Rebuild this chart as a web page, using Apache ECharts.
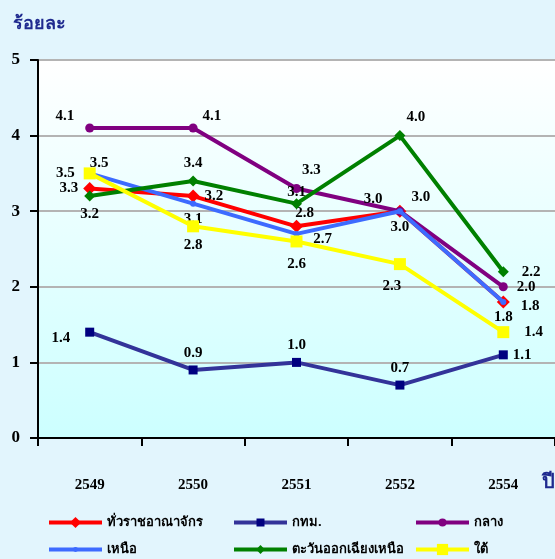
<!DOCTYPE html>
<html>
<head>
<meta charset="utf-8">
<script src="https://cdn.jsdelivr.net/npm/echarts@6/dist/echarts.min.js"></script>
<style>
  html, body { margin: 0; padding: 0; background: #e2f5fd; }
  #main { width: 555px; height: 559px; }
</style>
</head>
<body>
<div id="main"></div>
<script>
// ข้อมูล
var years = ["2549", "2550", "2551", "2552", "2554"];
var seriesNames = ["ทั่วราชอาณาจักร", "กทม.", "กลาง", "เหนือ", "ตะวันออกเฉียงเหนือ", "ใต้"];
var wholeKingdom = [3.3, 3.2, 2.8, 3.0, 1.8];
var bangkok = [1.4, 0.9, 1.0, 0.7, 1.1];
var central = [4.1, 4.1, 3.3, 3.0, 2.0];
var north = [3.5, 3.1, 2.7, 3.0, 1.8];
var northeast = [3.2, 3.4, 3.1, 4.0, 2.2];
var south = [3.5, 2.8, 2.6, 2.3, 1.4];
var yTicks = [0, 1, 2, 3, 4, 5];

// ตำแหน่งป้ายตัวเลข
var labelPos = [
  ["left", "right", "top", "right", "right"],
  ["left", "top", "top", "top", "right"],
  ["left", "right", "right", "left", "right"],
  ["right", "bottom", "bottom", "bottom", "bottom"],
  ["bottom", "top", "top", "right", "right"],
  ["left", "bottom", "bottom", "bottom", "right"]
];
var labelOffset = [
  [[0, 0], [0, 0], [8, 6], [0, -14], [6, 4]],
  [[-10, 6], [0, 0], [0, 0], [0, 0], [0, 0]],
  [[-6, -12], [0, -12], [-4, -18], [-8, -12], [4, 0]],
  [[-8, -10], [0, 0], [26, -10], [0, 0], [0, 0]],
  [[0, 0], [0, 0], [0, 6], [-4, -18], [8, 0]],
  [[-4, 0], [0, 0], [0, 4], [-8, 4], [10, 0]]
];

var colors = ["#ff0000", "#333399", "#800080", "#3d6bff", "#008000", "#ffff00"];
var symbols = ["diamond", "rect", "circle", "circle", "diamond", "rect"];
var symbolSizes = [13, 9, 9, 6, 11, 12];
var symbolColors = ["#ff0000", "#000080", "#800080", "#3d6bff", "#008000", "#ffff00"];
var allData = [wholeKingdom, bangkok, central, north, northeast, south];

var labelFont = {
  fontFamily: "Liberation Serif",
  fontWeight: "bold",
  fontSize: 15,
  color: "#000"
};

function buildSeries() {
  return allData.map(function (arr, s) {
    return {
      name: seriesNames[s],
      type: "line",
      symbol: symbols[s],
      symbolSize: symbolSizes[s],
      showAllSymbol: true,
      lineStyle: { color: colors[s], width: 4 },
      itemStyle: { color: symbolColors[s] },
      emphasis: { disabled: true },
      z: 2 + s,
      data: arr.map(function (v, i) {
        return {
          value: v,
          label: {
            show: true,
            position: labelPos[s][i],
            offset: labelOffset[s][i],
            formatter: v.toFixed(1),
            fontFamily: labelFont.fontFamily,
            fontWeight: labelFont.fontWeight,
            fontSize: labelFont.fontSize,
            color: labelFont.color
          }
        };
      })
    };
  });
}

var legendText = {
  fontFamily: "Noto Sans, DejaVu Sans, sans-serif",
  fontSize: 13,
  fontWeight: "bold",
  color: "#000",
  padding: [8, 0, 0, 0]
};

// หนึ่งรายการต่อหนึ่ง legend เพื่อจัดคอลัมน์ให้ตรงกัน
var legendLeft = [47, 232, 414, 47, 232, 414];
var legendRowY = [522, 522, 522, 549, 549, 549];
var legendIconH = [14, 10, 10, 6, 11, 14];

function buildLegends() {
  return seriesNames.map(function (name, i) {
    return {
      left: legendLeft[i],
      top: legendRowY[i] - 6,
      padding: 0,
      itemWidth: 53,
      itemHeight: legendIconH[i],
      itemGap: 4,
      lineStyle: { width: 4 },
      textStyle: legendText,
      data: [name]
    };
  });
}

var myChart = echarts.init(document.getElementById("main"));
myChart.setOption({
  backgroundColor: "#e2f5fd",
  animation: false,
  title: [
    {
      text: "ร้อยละ",
      left: 8,
      top: 10,
      textStyle: {
        color: "#1f2a8f",
        fontSize: 18,
        fontWeight: "bold",
        fontFamily: "Noto Sans, DejaVu Sans, sans-serif"
      }
    },
    {
      text: "ปี",
      left: 537,
      top: 467,
      textStyle: {
        color: "#1f2a8f",
        fontSize: 20,
        fontWeight: "bold",
        fontFamily: "Noto Sans, DejaVu Sans, sans-serif"
      }
    }
  ],
  grid: {
    left: 38,
    top: 60,
    width: 525,
    height: 378,
    show: true,
    borderWidth: 0,
    backgroundColor: new echarts.graphic.LinearGradient(0, 0, 0, 1, [
      { offset: 0, color: "#ffffff" },
      { offset: 1, color: "#ccffff" }
    ])
  },
  legend: buildLegends(),
  xAxis: {
    type: "category",
    data: years,
    boundaryGap: true,
    axisLine: { lineStyle: { color: "#000", width: 2 } },
    axisTick: { show: true, length: 8, lineStyle: { color: "#000", width: 2 } },
    axisLabel: {
      margin: 40,
      fontFamily: "Liberation Serif",
      fontWeight: "bold",
      fontSize: 15,
      color: "#000"
    },
    splitLine: { show: false }
  },
  yAxis: {
    type: "value",
    min: yTicks[0],
    max: yTicks[yTicks.length - 1],
    interval: 1,
    axisLine: { show: true, lineStyle: { color: "#000", width: 2 } },
    axisTick: { show: true, length: 8, lineStyle: { color: "#000", width: 2 } },
    axisLabel: {
      margin: 18,
      fontFamily: "Liberation Serif",
      fontWeight: "bold",
      fontSize: 17,
      color: "#000"
    },
    splitLine: { show: true, lineStyle: { color: "#b4b4b4", width: 2 } }
  },
  series: buildSeries()
});
</script>
</body>
</html>
